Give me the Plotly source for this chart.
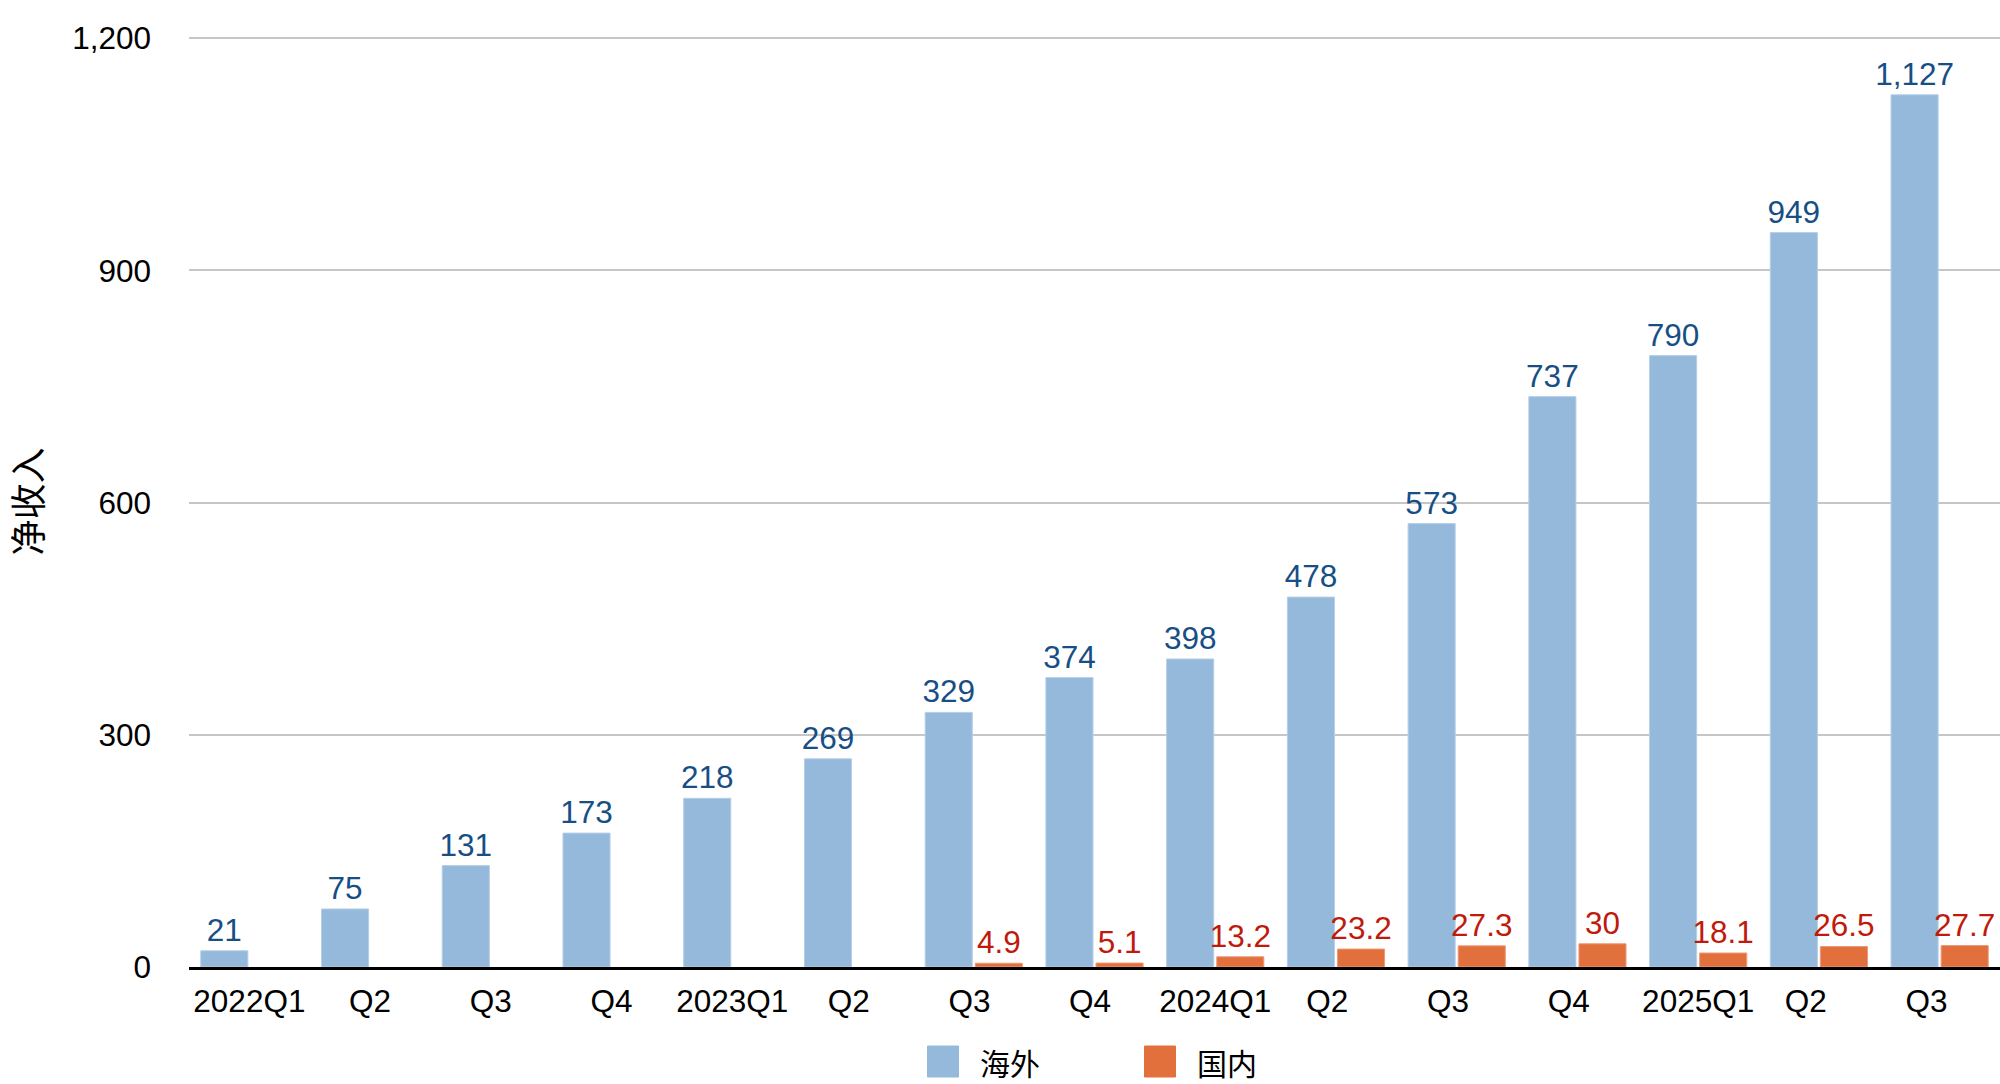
import plotly.graph_objects as go

categories = ["2022Q1", "Q2", "Q3", "Q4", "2023Q1", "Q2 ", "Q3 ", "Q4 ", "2024Q1", "Q2  ", "Q3  ", "Q4  ", "2025Q1", "Q2   ", "Q3   "]
overseas_name = "海外"
domestic_name = "国内"
overseas = [21, 75, 131, 173, 218, 269, 329, 374, 398, 478, 573, 737, 790, 949, 1127]
domestic = [None, None, None, None, None, None, 4.9, 5.1, 13.2, 23.2, 27.3, 30, 18.1, 26.5, 27.7]
y_ticks = [0, 300, 600, 900, 1200]
y_tick_labels = ["0", "300", "600", "900", "1,200"]
y_title = "净收入"

BLUE = "#94b9db"
ORANGE = "#e2703d"
BLUE_TXT = "#174f85"
RED_TXT = "#c01a0c"
FONT = "Liberation Sans, Arial, Noto Sans CJK SC, sans-serif"
FS = 31.5

fig = go.Figure()
fig.add_trace(go.Bar(
    x=categories, y=overseas, name=overseas_name,
    marker=dict(color=BLUE, line=dict(color="#b4cfe8", width=1)),
    texttemplate="%{y:,}", textposition="outside", constraintext="none",
    textfont=dict(color=BLUE_TXT, size=FS, family=FONT),
    cliponaxis=False, showlegend=False,
))
fig.add_trace(go.Bar(
    x=categories, y=domestic, name=domestic_name,
    marker=dict(color=ORANGE, line=dict(color="#ee9a78", width=1)),
    texttemplate="%{y}", textposition="outside", constraintext="none",
    textfont=dict(color=RED_TXT, size=FS, family=FONT),
    cliponaxis=False, showlegend=False,
))

# legend (drawn as paper-anchored squares + labels to match the large swatches)
legend_items = [(overseas_name, BLUE, -167), (domestic_name, ORANGE, 50)]
shapes = []
annotations = []
for name, col, off in legend_items:
    shapes.append(dict(
        type="rect", xref="paper", yref="paper", xsizemode="pixel", ysizemode="pixel",
        xanchor=0.5, yanchor=0, x0=off, x1=off + 31, y0=-110, y1=-79,
        fillcolor=col, line=dict(color=col, width=1),
    ))
    annotations.append(dict(
        text=name, xref="paper", yref="paper", x=0.5, y=0, xanchor="left", yanchor="middle",
        xshift=off + 50, yshift=-94.5, showarrow=False,
        font=dict(size=30, color="#000000", family="Noto Sans CJK SC, sans-serif"),
    ))

fig.update_layout(
    width=2000, height=1084,
    margin=dict(l=189, r=0, t=36, b=117, autoexpand=False),
    plot_bgcolor="white", paper_bgcolor="white",
    barmode="group", bargap=0.17, bargroupgap=0.06,
    font=dict(family=FONT, size=FS, color="#000000"),
    shapes=shapes, annotations=annotations,
    showlegend=False,
)
fig.update_yaxes(
    range=[0, 1203], tickvals=y_ticks, ticktext=y_tick_labels,
    showgrid=True, gridcolor="#c6c6c6", gridwidth=1.5,
    zeroline=False, showline=False, ticks="",
    ticklabelstandoff=37,
    tickfont=dict(size=FS, family=FONT, color="#000000"),
    title=dict(text=y_title, standoff=28, font=dict(size=36, family="Noto Sans CJK SC, sans-serif")),
    automargin=False,
)
fig.update_xaxes(
    showline=True, linecolor="#000000", linewidth=3,
    showgrid=False, ticks="", ticklabelstandoff=4,
    tickfont=dict(size=FS, family=FONT, color="#000000"),
    tickangle=0, automargin=False,
)

fig.write_html(
    "out.html",
    config={"displayModeBar": False},
    post_script="document.body.style.margin='0';document.body.style.overflow='hidden';",
)
